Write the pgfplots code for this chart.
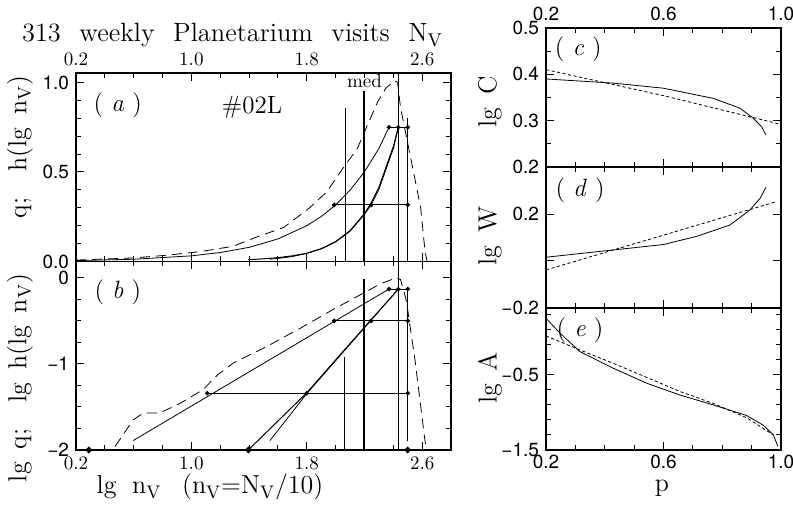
\documentclass[border=0pt]{standalone}
\usepackage{fontspec}
\newfontfamily\hel{TeX Gyre Heros}
\usepackage{pgfplots}
\pgfplotsset{compat=1.18}
\tikzset{
  dsh/.style={dash pattern=on 5pt off 3pt},
  dot/.style={dash pattern=on 1.6pt off 1.2pt},
  seg/.style={mark=*, mark size=0.9pt, mark options={solid}},
  lab/.style={font=\fontsize{12.5}{14}\selectfont},
}
\begin{document}
\begin{tikzpicture}
\path[use as bounding box] (0,0) rectangle (396.5pt,254pt);
\pgfplotsset{
  every axis/.append style={scale only axis, anchor=south west, clip=false,
    axis line style={line width=0.6pt}, every tick/.style={black, line width=0.5pt},
    major tick length=4pt, minor tick length=2.5pt,
    xtick pos=both, ytick pos=both,
    cycle list={{black,mark=none,line width=0.5pt}},
    yticklabel style={font=\hel\fontsize{9.5}{10}\selectfont},
    xticklabel style={font=\fontsize{9.5}{10}\selectfont},
  },
}
% ---------------- (a)
\begin{axis}[at={(38pt,123.25pt)}, width=187.5pt, height=94.25pt,
  xmin=0.2, xmax=2.8, ymin=0, ymax=1.053,
  xtick={0.2,1.0,1.8,2.6}, xticklabels={0.2,1.0,1.8,2.6}, xticklabel pos=top,
  minor x tick num=3,
  ytick={0,0.5,1}, yticklabels={0.0,0.5,1.0}, minor y tick num=4]
\addplot+[dsh] coordinates {(0.2,0.008)(0.6,0.02)(0.83,0.035)(1.06,0.055)(1.29,0.085)(1.43,0.13)(1.64,0.19)(1.82,0.30)(1.94,0.39)(2.05,0.52)(2.15,0.63)(2.22,0.76)(2.29,0.89)(2.35,0.97)(2.41,1.01)(2.43,1.0)(2.45,0.86)(2.52,0.58)(2.59,0.30)(2.62,0.055)(2.635,0.0)};
\addplot+[] coordinates {(0.2,0.005)(0.6,0.0126)(1.0,0.0316)(1.2,0.05)(1.4,0.079)(1.6,0.126)(1.8,0.2)(1.9,0.251)(2.0,0.316)(2.1,0.398)(2.2,0.501)(2.3,0.631)(2.37,0.75)};
\addplot+[] coordinates {(1.395,0.01)(1.5,0.0148)(1.6,0.0216)(1.7,0.0314)(1.8,0.0462)(1.9,0.0716)(2.0,0.111)(2.1,0.172)(2.2,0.267)(2.246,0.327)(2.3,0.414)(2.4,0.642)(2.435,0.75)};
\addplot+[] coordinates {(1.545,0.0129)(1.6,0.0169)(1.7,0.0277)(1.8,0.0452)(1.9,0.0702)(2.0,0.109)(2.1,0.169)(2.2,0.263)(2.246,0.316)(2.3,0.402)(2.4,0.630)(2.435,0.75)};
\addplot+[seg] coordinates {(2.37,0.75)(2.435,0.75)(2.50,0.75)};
\addplot+[seg] coordinates {(1.99,0.316)(2.246,0.316)(2.50,0.316)};
\addplot+[] coordinates {(2.065,0)(2.065,0.855)};
\addplot+[line width=1pt] coordinates {(2.197,0)(2.197,0.95)};
\addplot+[] coordinates {(2.435,0)(2.435,1.053)};
\addplot+[] coordinates {(2.497,0)(2.497,0.80)};
\node[font=\fontsize{9.5}{10}\selectfont] at (axis cs:2.2,1.008) {med};
\node[lab] at (axis cs:0.49,0.874) {( \textit{a} )};
\node[lab] at (axis cs:1.42,0.86) {\#02L};
\end{axis}
% ---------------- (b)
\begin{axis}[at={(38pt,29pt)}, width=187.5pt, height=94.25pt,
  xmin=0.2, xmax=2.8, ymin=-2, ymax=0.19,
  xtick={0.2,1.0,1.8,2.6}, xticklabels={0.2,1.0,1.8,2.6},
  minor x tick num=3,
  ytick={-2,-1,0}, yticklabels={−2,−1,0}, minor y tick num=3]
\addplot+[dsh] coordinates {(0.47,-1.96)(0.597,-1.65)(0.667,-1.57)(0.78,-1.57)(0.92,-1.46)(1.08,-1.30)(1.18,-1.13)(1.29,-0.99)(1.52,-0.80)(1.75,-0.59)(1.98,-0.37)(2.19,-0.18)(2.31,-0.07)(2.42,0.0)(2.45,-0.02)(2.49,-0.26)(2.55,-0.95)(2.62,-1.90)(2.63,-2.0)};
\addplot+[] coordinates {(0.597,-1.89)(2.37,-0.13)};
\addplot+[] coordinates {(1.395,-2.0)(1.80,-1.335)(2.1,-0.764)(2.435,-0.13)};
\addplot+[] coordinates {(1.545,-1.89)(1.80,-1.345)(2.1,-0.771)(2.435,-0.13)};
\addplot+[seg] coordinates {(2.37,-0.13)(2.435,-0.13)(2.50,-0.13)};
\addplot+[seg] coordinates {(1.99,-0.50)(2.246,-0.50)(2.50,-0.50)};
\addplot+[seg] coordinates {(1.11,-1.34)(1.80,-1.34)(2.50,-1.34)};
\addplot+[seg, line width=1.2pt] coordinates {(0.29,-2)(1.395,-2)(2.50,-2)};
\addplot+[] coordinates {(2.065,-2)(2.065,-0.915)};
\addplot+[line width=1pt] coordinates {(2.197,-2)(2.197,-0.015)};
\addplot+[] coordinates {(2.435,-2)(2.435,0.19)};
\addplot+[] coordinates {(2.497,-1.9)(2.497,-0.13)};
\node[lab] at (axis cs:0.49,-0.17) {( \textit{b} )};
\end{axis}
% ---------------- (c)
\begin{axis}[at={(273pt,170.5pt)}, width=117.5pt, height=69.5pt,
  xmin=0.2, xmax=1.0, ymin=0.2, ymax=0.5,
  xtick={0.2,0.6,1.0}, xticklabels={0.2,0.6,1.0}, xticklabel pos=top,
  xticklabel style={font=\hel\fontsize{9.5}{10}\selectfont},
  minor x tick num=3,
  ytick={0.2,0.3,0.4,0.5}, yticklabels={0.2,0.3,0.4,0.5}, minor y tick num=1]
\addplot+[] coordinates {(0.2,0.390)(0.429,0.381)(0.6,0.370)(0.77,0.348)(0.86,0.327)(0.906,0.305)(0.934,0.287)(0.949,0.269)};
\addplot+[dot] coordinates {(0.2,0.41)(0.6,0.354)(1.0,0.292)};
\node[lab] at (axis cs:0.31,0.455) {( \textit{c} )};
\end{axis}
% ---------------- (d)
\begin{axis}[at={(273pt,100pt)}, width=117.5pt, height=70.5pt,
  xmin=0.2, xmax=1.0, ymin=-0.2, ymax=0.4,
  xtick={0.2,0.6,1.0}, xticklabels={}, minor x tick num=3,
  ytick={-0.2,0,0.2,0.4}, yticklabels={−0.2,,0.2,}]
\addplot+[] coordinates {(0.2,0.016)(0.429,0.047)(0.6,0.070)(0.713,0.105)(0.826,0.153)(0.894,0.217)(0.929,0.267)(0.949,0.314)};
\addplot+[dot] coordinates {(0.2,-0.038)(0.6,0.110)(0.983,0.252)};
\node[lab] at (axis cs:0.316,0.302) {( \textit{d} )};
\end{axis}
% ---------------- (e)
\begin{axis}[at={(273pt,29pt)}, width=117.5pt, height=71pt,
  xmin=0.2, xmax=1.0, ymin=-1.5, ymax=0.393,
  xtick={0.2,0.6,1.0}, xticklabels={0.2,0.6,1.0}, minor x tick num=3,
  xticklabel style={font=\hel\fontsize{9.5}{10}\selectfont, yshift=1.2pt},
  ytick={-1.5,-0.5}, yticklabels={−1.5,−0.5},
  minor ytick={-1.3,-1.1,-0.9,-0.7,-0.3,-0.1,0.1,0.3}]
\addplot+[] coordinates {(0.2,0.256)(0.248,0.056)(0.316,-0.19)(0.429,-0.41)(0.543,-0.61)(0.656,-0.767)(0.77,-0.90)(0.883,-1.04)(0.94,-1.17)(0.974,-1.30)(0.989,-1.447)};
\addplot+[dot] coordinates {(0.2,0.02)(0.316,-0.167)(0.429,-0.344)(0.656,-0.72)(0.77,-0.88)(0.883,-1.07)(0.974,-1.30)};
\node[lab] at (axis cs:0.316,0.10) {( \textit{e} )};
\end{axis}
% ---------------- texts
\node[anchor=base west, font=\fontsize{13.2}{15}\selectfont] at (7.5pt,233pt)
  {313\hspace{0.7em}weekly\hspace{0.7em}Planetarium\hspace{0.7em}visits\hspace{0.7em}N$_\mathrm{V}$};
\node[rotate=90, font=\fontsize{13}{15}\selectfont] at (10pt,180.5pt)
  {q;\hspace{1em}h(lg\hspace{0.5em}n$_\mathrm{V}$)};
\node[rotate=90, font=\fontsize{13}{15}\selectfont] at (10pt,65pt)
  {lg\hspace{0.5em}q;\hspace{1em}lg\hspace{0.5em}h(lg\hspace{0.5em}n$_\mathrm{V}$)};
\node[anchor=base, font=\fontsize{13}{15}\selectfont] at (105pt,7pt)
  {lg\hspace{0.6em}n$_\mathrm{V}$\hspace{0.8em}(n$_\mathrm{V}$=N$_\mathrm{V}$/10)};
\node[rotate=90, font=\fontsize{13}{15}\selectfont] at (245pt,203pt) {lg\hspace{0.5em}C};
\node[rotate=90, font=\fontsize{13}{15}\selectfont] at (245pt,136pt) {lg\hspace{0.5em}W};
\node[rotate=90, font=\fontsize{13}{15}\selectfont] at (245pt,65pt) {lg\hspace{0.5em}A};
\node[anchor=base, font=\fontsize{13}{15}\selectfont] at (331pt,8pt) {p};
\end{tikzpicture}
\end{document}
